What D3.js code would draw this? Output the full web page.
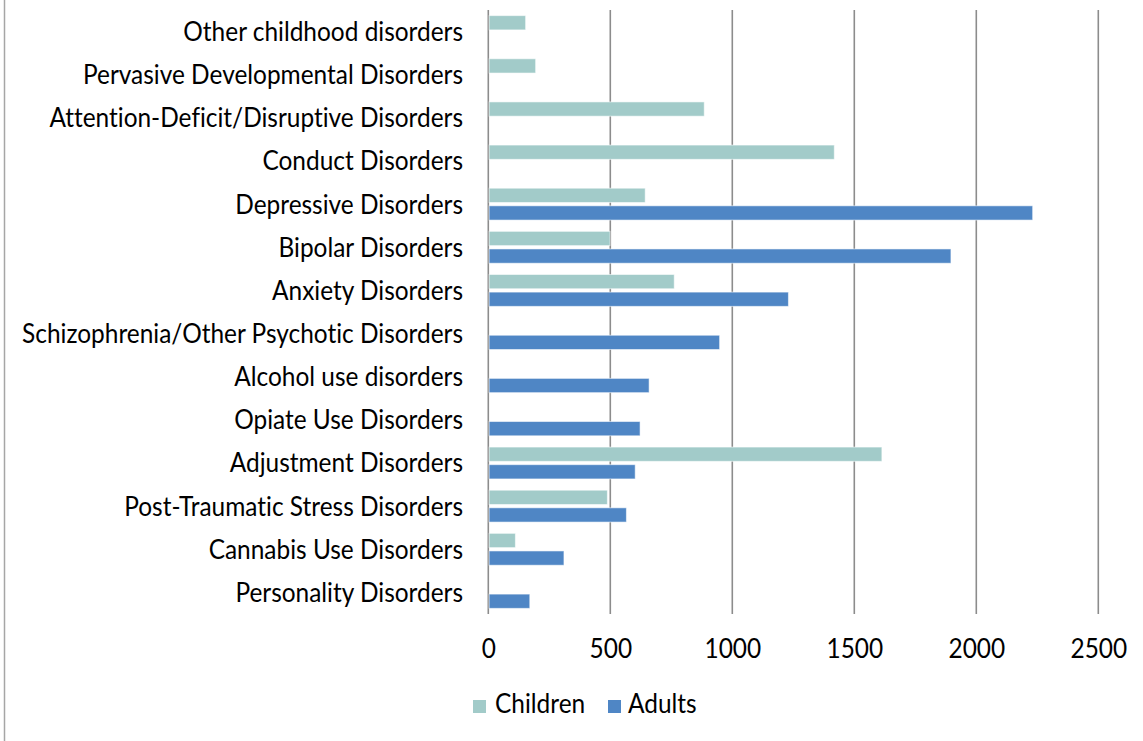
<!DOCTYPE html>
<html>
<head>
<meta charset="utf-8">
<script src="https://cdn.jsdelivr.net/npm/d3@7"></script>
<style>
  html, body { margin: 0; padding: 0; background: #ffffff; }
  svg { display: block; }
  text { font-family: Lato, "Open Sans", sans-serif; fill: #000; font-variant-ligatures: none; font-feature-settings: "liga" 0, "clig" 0; }
</style>
</head>
<body>
<svg id="chart" width="1143" height="741"></svg>
<script>
const categories = [
  "Other childhood disorders",
  "Pervasive Developmental Disorders",
  "Attention-Deficit/Disruptive Disorders",
  "Conduct Disorders",
  "Depressive Disorders",
  "Bipolar Disorders",
  "Anxiety Disorders",
  "Schizophrenia/Other Psychotic Disorders",
  "Alcohol use disorders",
  "Opiate Use Disorders",
  "Adjustment Disorders",
  "Post-Traumatic Stress Disorders",
  "Cannabis Use Disorders",
  "Personality Disorders"
];
const childrenValues = [153, 194, 885, 1418, 643, 499, 762, null, null, null, 1613, 488, 111, null];
const adultsValues   = [null, null, null, null, 2231, 1896, 1230, 948, 659, 622, 602, 566, 310, 170];
const seriesNames = ["Children", "Adults"];
const seriesColors = ["#A2CBC9", "#4F86C5"];
const xTicks = [0, 500, 1000, 1500, 2000, 2500];

const svg = d3.select("#chart");
const W = 1143, H = 741;
const plot = { left: 488.3, right: 1098.3, top: 10, bottom: 614 };
const vStretch = 1.07;

// left chart border
svg.append("line")
  .attr("x1", 4.5).attr("x2", 4.5).attr("y1", 0).attr("y2", H)
  .attr("stroke", "#a6a6a6").attr("stroke-width", 1.5);

const x = d3.scaleLinear().domain([0, 2500]).range([plot.left, plot.right]);
const y = d3.scaleBand().domain(categories).range([plot.top, plot.bottom]).padding(0);
const ySub = d3.scaleBand().domain(seriesNames).range([0, y.bandwidth()])
  .paddingInner(0.19).paddingOuter(0.32);

// font sizing: fit longest label to its measured width in the reference
const probe = svg.append("text").attr("font-size", 20).text(categories[7]);
const w20 = probe.node().getComputedTextLength();
probe.remove();
const fontSize = 20 * 441 / w20;
const capH = fontSize * 0.72 * vStretch;

// gridlines
svg.append("g").selectAll("line").data(xTicks).join("line")
  .attr("x1", d => x(d)).attr("x2", d => x(d))
  .attr("y1", plot.top).attr("y2", plot.bottom)
  .attr("stroke", "#8c8c8c").attr("stroke-width", 1.6);

// bars
const rows = [];
categories.forEach((c, i) => {
  if (childrenValues[i] != null) rows.push({ cat: c, s: "Children", v: childrenValues[i] });
  if (adultsValues[i] != null) rows.push({ cat: c, s: "Adults", v: adultsValues[i] });
});
const color = d3.scaleOrdinal().domain(seriesNames).range(seriesColors);
svg.append("g").selectAll("rect").data(rows).join("rect")
  .attr("x", x(0) + 0.8)
  .attr("y", d => y(d.cat) + ySub(d.s))
  .attr("width", d => x(d.v) - x(0) - 0.8)
  .attr("height", ySub.bandwidth())
  .attr("fill", d => color(d.s))
  .attr("stroke", "#ffffff").attr("stroke-opacity", 0.55).attr("stroke-width", 1);

// category labels
svg.append("g").selectAll("text").data(categories).join("text")
  .attr("transform", d => `translate(463,${y(d) + y.bandwidth() / 2 + capH / 2}) scale(1,${vStretch})`)
  .attr("text-anchor", "end")
  .attr("font-size", fontSize)
  .text(d => d);

// x tick labels via axis
const xAxis = d3.axisBottom(x).tickValues(xTicks).tickSize(0).tickPadding(0).tickFormat(d3.format("d"));
const gx = svg.append("g").attr("transform", "translate(0,658)").call(xAxis);
gx.select(".domain").remove();
gx.selectAll("text")
  .attr("font-size", fontSize)
  .attr("font-family", "Lato, 'Open Sans', sans-serif")
  .attr("fill", "#000")
  .attr("dy", 0).attr("y", 0)
  .attr("transform", `scale(1,${vStretch})`);

// legend
const legendItems = [
  { name: "Children", sx: 473, tx: 495 },
  { name: "Adults", sx: 608, tx: 628 }
];
const lg = svg.append("g");
legendItems.forEach((it) => {
  lg.append("rect").attr("x", it.sx).attr("y", 700).attr("width", 13).attr("height", 13)
    .attr("fill", color(it.name));
  lg.append("text").attr("transform", `translate(${it.tx},713) scale(1,${vStretch})`)
    .attr("font-size", fontSize).text(it.name);
});
</script>
</body>
</html>
